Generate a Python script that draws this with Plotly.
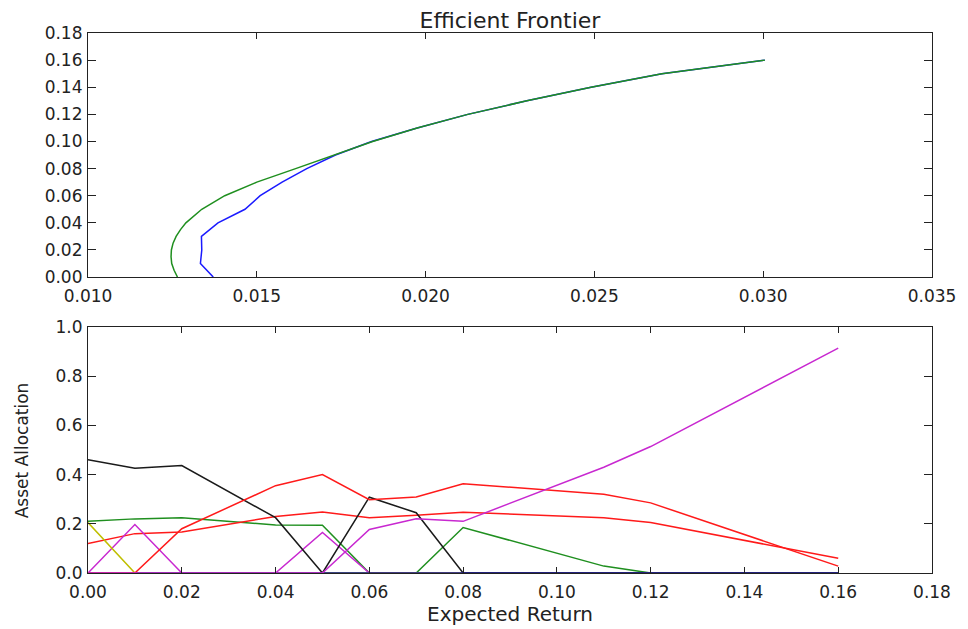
import plotly.graph_objects as go
from plotly.subplots import make_subplots

# ---- Top chart: efficient frontier (x = risk, y = expected return) ----
blue_ret = [0.00, 0.01, 0.02, 0.03, 0.04, 0.05, 0.06, 0.07, 0.08, 0.09, 0.10,
            0.11, 0.12, 0.13, 0.14, 0.15, 0.16]
blue_risk = [0.01371, 0.01333, 0.01337, 0.01336, 0.01385, 0.01465, 0.01510, 0.01575,
             0.01648, 0.01733, 0.01840, 0.01975, 0.02125, 0.02300, 0.02490, 0.02700, 0.03005]

green_ret = [0.000, 0.005, 0.010, 0.015, 0.020, 0.025, 0.030, 0.035, 0.040, 0.045,
             0.050, 0.060, 0.070, 0.080, 0.090, 0.100, 0.110, 0.120, 0.130, 0.140,
             0.150, 0.160]
green_risk = [0.01265, 0.01255, 0.01248, 0.01246, 0.01247, 0.01252, 0.01261, 0.01274,
              0.01290, 0.01312, 0.01337, 0.01405, 0.01500, 0.01615, 0.01728, 0.01843,
              0.01975, 0.02125, 0.02300, 0.02490, 0.02700, 0.03005]

# ---- Bottom chart: asset allocation vs expected return ----
alloc_ret = [0.00, 0.01, 0.02, 0.04, 0.05, 0.06, 0.07, 0.08, 0.11, 0.12, 0.16]
w_zero = [0.0] * len(alloc_ret)
w_green = [0.210, 0.220, 0.225, 0.195, 0.194, 0.0, 0.0, 0.185, 0.028, 0.0, 0.0]
w_red_a = [0.120, 0.160, 0.167, 0.230, 0.248, 0.225, 0.235, 0.247, 0.225, 0.205, 0.060]
w_magenta_a = [0.0, 0.197, 0.0, 0.0, 0.165, 0.0, 0.0, 0.0, 0.0, 0.0, 0.0]
w_yellow = [0.205, 0.0, 0.0, 0.0, 0.0, 0.0, 0.0, 0.0, 0.0, 0.0, 0.0]
w_black = [0.460, 0.426, 0.437, 0.225, 0.0, 0.308, 0.245, 0.0, 0.0, 0.0, 0.0]
w_red_b = [0.0, 0.0, 0.180, 0.355, 0.400, 0.298, 0.309, 0.363, 0.320, 0.285, 0.028]
w_magenta_b = [0.0, 0.0, 0.0, 0.0, 0.0, 0.177, 0.220, 0.210, 0.430, 0.514, 0.914]

BLUE = "#1a1aff"
GREEN = "#1f8f1f"
RED = "#ff1a1a"
CYAN = "#00bfbf"
MAGENTA = "#c828d0"
YELLOW = "#bfbf00"
BLACK = "#1a1a1a"

FONT = "DejaVu Sans"

fig = make_subplots(rows=2, cols=1, vertical_spacing=0.0)

fig.add_trace(go.Scatter(x=blue_risk, y=blue_ret, mode="lines",
                         line=dict(color=BLUE, width=1.5)), row=1, col=1)
fig.add_trace(go.Scatter(x=green_risk, y=green_ret, mode="lines",
                         line=dict(color=GREEN, width=1.5)), row=1, col=1)

series = [
    (w_zero, CYAN),
    (w_green, GREEN),
    (w_red_a, RED),
    (w_magenta_a, MAGENTA),
    (w_yellow, YELLOW),
    (w_black, BLACK),
    (w_zero, "#1a1a9a"),
    (w_red_b, RED),
    (w_magenta_b, MAGENTA),
]
for vals, col in series:
    fig.add_trace(go.Scatter(x=alloc_ret, y=vals, mode="lines",
                             line=dict(color=col, width=1.5)), row=2, col=1)

axis_common = dict(showline=True, linecolor="#222", linewidth=1.2, mirror="allticks",
                   ticks="inside", tickcolor="#222", showgrid=False, zeroline=False,
                   tickfont=dict(family=FONT, size=17, color="#222"))

fig.update_xaxes(**axis_common, ticklen=6, ticklabelstandoff=3)
fig.update_yaxes(**axis_common, ticklen=8, ticklabelstandoff=1)

fig.update_xaxes(range=[0.010, 0.035], dtick=0.005, tick0=0.010, tickformat=".3f",
                 row=1, col=1)
fig.update_yaxes(range=[0, 0.18], dtick=0.02, tick0=0, tickformat=".2f", row=1, col=1,
                 domain=[0.548, 1.0])
fig.update_xaxes(range=[0, 0.18], dtick=0.02, tick0=0, tickformat=".2f", row=2, col=1)
fig.update_yaxes(range=[0, 1.0], dtick=0.2, tick0=0, tickformat=".1f", row=2, col=1,
                 domain=[0.0, 0.4556])

# page body adds an 8px offset, so the figure is 8px smaller on each axis
W, H = 960, 621
fig.update_layout(
    width=W, height=H,
    margin=dict(l=80, r=32, t=25, b=56),
    paper_bgcolor="white", plot_bgcolor="white",
    showlegend=False,
    title=dict(text="Efficient Frontier", x=0.5, xref="paper", xanchor="center",
               y=1 - 12 / H, yref="container", yanchor="middle",
               font=dict(family=FONT, size=22, color="#222")),
    annotations=[
        dict(text="Asset Allocation", xref="paper", yref="paper",
             x=(14 - 80) / 848, y=0.4556 / 2, textangle=-90,
             xanchor="center", yanchor="middle", showarrow=False,
             font=dict(family=FONT, size=17, color="#222")),
        dict(text="Expected Return", xref="paper", yref="paper",
             x=0.5, y=-41 / 540, xanchor="center", yanchor="middle", showarrow=False,
             font=dict(family=FONT, size=20, color="#222")),
    ],
)

fig.write_html("out.html")
